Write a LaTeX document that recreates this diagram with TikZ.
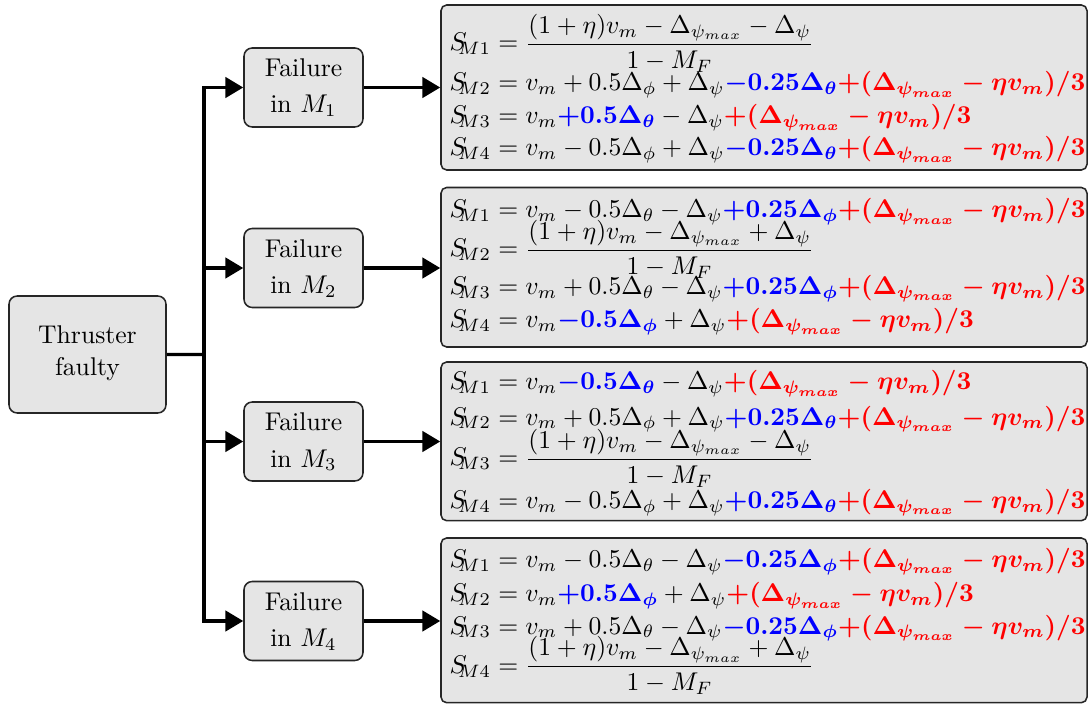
\documentclass[tikz,border=0pt]{standalone}
\usepackage{amsmath}
\usetikzlibrary{arrows.meta,fit}

% coloured bold correction terms
\newcommand\bluebf[1]{{\color{blue}\boldsymbol{#1}}}
\newcommand\redbf[1]{{\color{red}\boldsymbol{#1}}}
\newcommand\psicorr{\redbf{+(\Delta_{\psi_{max}}-\eta v_m)/3}}
\newcommand\SM[1]{S_{\mkern-6mu M#1}}

\begin{document}
\begin{tikzpicture}[
    x=0.39pt, y=-0.39pt,
    box/.style={draw=black!85, fill=black!10, line width=0.6pt,
      rounded corners=3.2pt, inner sep=0pt},
    eqbox/.style={box, rounded corners=2.2pt},
    label/.style={anchor=base, inner sep=0pt},
    eqrow/.style={anchor=base west, inner sep=0pt},
    link/.style={line width=1.25pt},
    arr/.style={link, -{Triangle[length=7pt,width=8pt]}}
  ]
  \useasboundingbox (0,0) rectangle (1088,704);

  % root box
  \node[box, fit={(9,296) (166,413)}] (thr) {};
  \node[label] (thr1) at (87.5,344) {Thruster};
  \node[label] (thr2) at (87.5,376) {faulty};

  % failure cases: box, then its two text lines
  \foreach \k/\top in {1/48, 2/228.5, 3/402, 4/581.5} {
    \node[box, fit={(244,\top) (363,\top+79)}] (f\k) {};
    \node[label] (f\k a) at (303.5,\top+29) {Failure};
    \node[label] (f\k b) at (303.5,\top+65) {in $M_{\k}$};
  }

  % equation panels
  \node[eqbox, fit={(441,5) (1087,170)}] (e1) {};
  \node[eqbox, fit={(441,187.5) (1087,347)}] (e2) {};
  \node[eqbox, fit={(441,362) (1087,520.7)}] (e3) {};
  \node[eqbox, fit={(441,538) (1087,702.7)}] (e4) {};

  % panel for M1
  \node[eqrow] (r11) at (449,50.7) {$\SM1 = \dfrac{(1+\eta)v_m-\Delta_{\psi_{max}}-\Delta_\psi}{1-M_F}$};
  \node[eqrow] (r12) at (449,90.7) {$\SM2 = v_m+0.5\Delta_\phi+\Delta_\psi\bluebf{-0.25\Delta_\theta}\psicorr$};
  \node[eqrow] (r13) at (449,124) {$\SM3 = v_m\bluebf{+0.5\Delta_\theta}-\Delta_\psi\psicorr$};
  \node[eqrow] (r14) at (449,156) {$\SM4 = v_m-0.5\Delta_\phi+\Delta_\psi\bluebf{-0.25\Delta_\theta}\psicorr$};

  % panel for M2
  \node[eqrow] (r21) at (449,217.7) {$\SM1 = v_m-0.5\Delta_\theta-\Delta_\psi\bluebf{+0.25\Delta_\phi}\psicorr$};
  \node[eqrow] (r22) at (449,256.7) {$\SM2 = \dfrac{(1+\eta)v_m-\Delta_{\psi_{max}}+\Delta_\psi}{1-M_F}$};
  \node[eqrow] (r23) at (449,294.3) {$\SM3 = v_m+0.5\Delta_\theta-\Delta_\psi\bluebf{+0.25\Delta_\phi}\psicorr$};
  \node[eqrow] (r24) at (449,327.7) {$\SM4 = v_m\bluebf{-0.5\Delta_\phi}+\Delta_\psi\psicorr$};

  % panel for M3
  \node[eqrow] (r31) at (449,390) {$\SM1 = v_m\bluebf{-0.5\Delta_\theta}-\Delta_\psi\psicorr$};
  \node[eqrow] (r32) at (449,425) {$\SM2 = v_m+0.5\Delta_\phi+\Delta_\psi\bluebf{+0.25\Delta_\theta}\psicorr$};
  \node[eqrow] (r33) at (449,465.7) {$\SM3 = \dfrac{(1+\eta)v_m-\Delta_{\psi_{max}}-\Delta_\psi}{1-M_F}$};
  \node[eqrow] (r34) at (449,508.3) {$\SM4 = v_m-0.5\Delta_\phi+\Delta_\psi\bluebf{+0.25\Delta_\theta}\psicorr$};

  % panel for M4
  \node[eqrow] (r41) at (449,567.3) {$\SM1 = v_m-0.5\Delta_\theta-\Delta_\psi\bluebf{-0.25\Delta_\phi}\psicorr$};
  \node[eqrow] (r42) at (449,601.7) {$\SM2 = v_m\bluebf{+0.5\Delta_\phi}+\Delta_\psi\psicorr$};
  \node[eqrow] (r43) at (449,634) {$\SM3 = v_m+0.5\Delta_\theta-\Delta_\psi\bluebf{-0.25\Delta_\phi}\psicorr$};
  \node[eqrow] (r44) at (449,673.3) {$\SM4 = \dfrac{(1+\eta)v_m-\Delta_{\psi_{max}}+\Delta_\psi}{1-M_F}$};

  % branching connectors
  \coordinate (j) at (204,354.5);
  \draw[link] (thr.east) -- (j);
  \foreach \k in {1,...,4} {
    \draw[arr] (j) |- (f\k.west);
    \draw[arr] (f\k.east) -- (f\k.east -| e\k.west);
  }
\end{tikzpicture}
\end{document}
